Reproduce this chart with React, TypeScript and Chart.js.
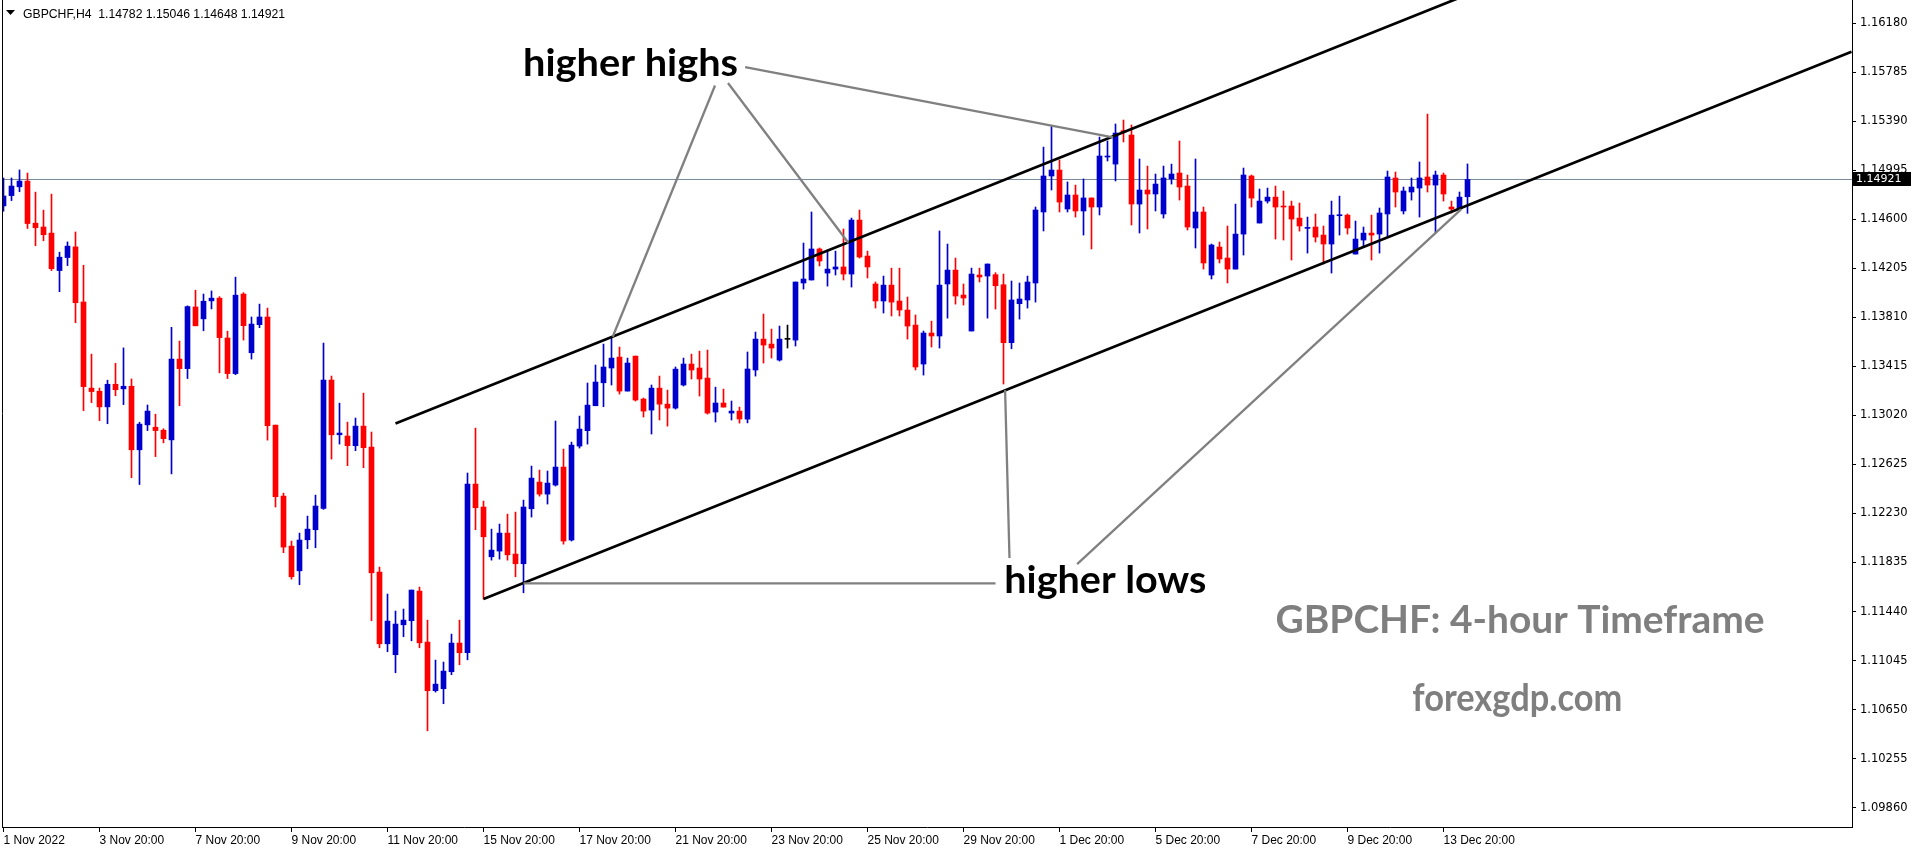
import React, { useEffect, useRef } from "react";
import { Chart, registerables } from "chart.js";

Chart.register(...registerables);

// ---------------- data ----------------
const symbol = "GBPCHF";
const timeframe = "H4";

const opens = [
  1.14708, 1.14791, 1.14862, 1.14908, 1.14569, 1.14538, 1.14489, 1.14187, 1.14292, 1.14378,
  1.13934, 1.1324, 1.13215, 1.13089, 1.13271, 1.13234, 1.13255, 1.12743, 1.12944, 1.12925,
  1.12901, 1.12823, 1.13474, 1.13397, 1.13894, 1.13798, 1.13943, 1.13965, 1.13644, 1.13357,
  1.13998, 1.13525, 1.13751, 1.13813, 1.12942, 1.1237, 1.11967, 1.11768, 1.12018, 1.12099,
  1.12271, 1.13305, 1.12864, 1.12854, 1.12776, 1.12934, 1.12765, 1.11758, 1.1118, 1.11092,
  1.11333, 1.11366, 1.11605, 1.11194, 1.10802, 1.10818, 1.10955, 1.11186, 1.11108, 1.12467,
  1.12282, 1.11881, 1.11927, 1.12072, 1.11903, 1.11825, 1.12268, 1.12483, 1.12386, 1.12459,
  1.12604, 1.12016, 1.12773, 1.12897, 1.13098, 1.13283, 1.13402, 1.1349, 1.13216, 1.13498,
  1.13152, 1.13063, 1.1324, 1.13111, 1.13079, 1.13265, 1.13434, 1.13402, 1.13321, 1.13047,
  1.1312, 1.13039, 1.13055, 1.1299, 1.13386, 1.13635, 1.13595, 1.13466, 1.13633, 1.13627,
  1.14087, 1.14111, 1.14361, 1.14167, 1.14199, 1.14216, 1.14159, 1.14594, 1.14304, 1.14079,
  1.13942, 1.1407, 1.13942, 1.13869, 1.13748, 1.13434, 1.13684, 1.1366, 1.14079, 1.14191,
  1.1399, 1.137, 1.14151, 1.14143, 1.14154, 1.14073, 1.13606, 1.1392, 1.1395, 1.14087,
  1.14659, 1.14949, 1.14997, 1.14683, 1.14796, 1.14667, 1.14772, 1.14699, 1.15102, 1.15045,
  1.15314, 1.15279, 1.14723, 1.14836, 1.14804, 1.14643, 1.14925, 1.14973, 1.14868, 1.1453,
  1.14659, 1.14151, 1.14377, 1.14288, 1.14199, 1.14481, 1.14949, 1.1457, 1.14747, 1.14779,
  1.14707, 1.14707, 1.1461, 1.14527, 1.14538, 1.14473, 1.14401, 1.14629, 1.14634, 1.1432,
  1.14433, 1.14489, 1.14481, 1.14643, 1.14933, 1.14667, 1.1482, 1.14852, 1.14941, 1.14876,
  1.14957, 1.14699, 1.14683, 1.14782,
];

const highs = [
  1.14933, 1.14933, 1.14998, 1.14973, 1.14819, 1.14674, 1.14803, 1.14335, 1.14418, 1.14498,
  1.1423, 1.13514, 1.1324, 1.13304, 1.1344, 1.13564, 1.13314, 1.12965, 1.13104, 1.1303,
  1.12913, 1.1373, 1.13619, 1.13903, 1.14029, 1.13998, 1.14023, 1.13977, 1.13699, 1.14134,
  1.14009, 1.13813, 1.13917, 1.13885, 1.12942, 1.12394, 1.12008, 1.12072, 1.12209, 1.12378,
  1.13603, 1.13337, 1.13119, 1.12966, 1.12999, 1.132, 1.12886, 1.11798, 1.11581, 1.11444,
  1.1146, 1.11613, 1.11637, 1.11371, 1.11049, 1.11033, 1.11258, 1.11371, 1.12556, 1.12918,
  1.1233, 1.12104, 1.12145, 1.12225, 1.12241, 1.12338, 1.12612, 1.1258, 1.12572, 1.12975,
  1.12749, 1.12805, 1.13015, 1.13281, 1.13426, 1.13595, 1.13654, 1.13571, 1.13482, 1.13498,
  1.1316, 1.13265, 1.13337, 1.13224, 1.1341, 1.13482, 1.13514, 1.13538, 1.13547, 1.13248,
  1.13232, 1.13136, 1.13087, 1.13531, 1.13692, 1.13837, 1.13716, 1.1374, 1.13748, 1.14095,
  1.14409, 1.14659, 1.14369, 1.14352, 1.14344, 1.14522, 1.1461, 1.14675, 1.14344, 1.14095,
  1.14143, 1.14207, 1.14207, 1.13974, 1.13829, 1.137, 1.1378, 1.14506, 1.14401, 1.14288,
  1.14079, 1.14207, 1.14207, 1.1424, 1.1417, 1.14159, 1.14103, 1.14087, 1.14143, 1.14699,
  1.15182, 1.15352, 1.15078, 1.14901, 1.14876, 1.14925, 1.14772, 1.15263, 1.15231, 1.15368,
  1.154, 1.1536, 1.15086, 1.15029, 1.14965, 1.15029, 1.15045, 1.15231, 1.14957, 1.15086,
  1.14699, 1.14401, 1.14417, 1.14546, 1.14723, 1.15013, 1.14957, 1.14844, 1.14852, 1.14868,
  1.14828, 1.14747, 1.14731, 1.14618, 1.14643, 1.14546, 1.14747, 1.14787, 1.14643, 1.14586,
  1.14538, 1.14634, 1.14691, 1.14989, 1.14981, 1.1486, 1.14933, 1.15062, 1.15448, 1.14989,
  1.14973, 1.14747, 1.1482, 1.15046,
];

const lows = [
  1.14665, 1.14751, 1.14822, 1.14526, 1.14387, 1.14427, 1.14187, 1.14017, 1.14227, 1.13767,
  1.13058, 1.13123, 1.12978, 1.12953, 1.13178, 1.13107, 1.12518, 1.12463, 1.12898, 1.12688,
  1.12799, 1.12549, 1.13098, 1.13317, 1.13742, 1.13702, 1.13878, 1.13363, 1.13317, 1.13348,
  1.13627, 1.13474, 1.13727, 1.12821, 1.12282, 1.11914, 1.11701, 1.11656, 1.11946, 1.11954,
  1.12263, 1.12668, 1.12789, 1.12615, 1.12736, 1.12599, 1.11366, 1.11148, 1.11116, 1.10947,
  1.11237, 1.11204, 1.11148, 1.10479, 1.10791, 1.10697, 1.10931, 1.11011, 1.11051, 1.12099,
  1.1154, 1.11854, 1.11862, 1.11854, 1.1172, 1.11591, 1.12201, 1.1237, 1.12306, 1.12451,
  1.11983, 1.12008, 1.12757, 1.12789, 1.13098, 1.1309, 1.13265, 1.13192, 1.13216, 1.13136,
  1.13007, 1.1287, 1.12983, 1.12934, 1.13071, 1.13257, 1.13313, 1.13176, 1.13031, 1.12967,
  1.13087, 1.12983, 1.12958, 1.1296, 1.13337, 1.13442, 1.13482, 1.13458, 1.13563, 1.13579,
  1.14038, 1.14111, 1.14224, 1.14062, 1.14151, 1.14111, 1.14054, 1.14288, 1.14127, 1.13885,
  1.13845, 1.13821, 1.13821, 1.13635, 1.13386, 1.13345, 1.13571, 1.13563, 1.13804, 1.13917,
  1.13909, 1.137, 1.14095, 1.13804, 1.13877, 1.13273, 1.13557, 1.13796, 1.13885, 1.13933,
  1.14506, 1.14836, 1.14659, 1.14659, 1.14618, 1.14473, 1.14361, 1.14635, 1.1507, 1.14909,
  1.15223, 1.14554, 1.1449, 1.14522, 1.14667, 1.1461, 1.14884, 1.14755, 1.14514, 1.14369,
  1.14199, 1.14119, 1.14248, 1.14087, 1.14199, 1.14312, 1.14699, 1.1457, 1.14731, 1.14441,
  1.14433, 1.14272, 1.14505, 1.14328, 1.14417, 1.1424, 1.14167, 1.14473, 1.14481, 1.1432,
  1.14377, 1.14272, 1.14328, 1.14457, 1.14699, 1.14643, 1.14755, 1.14618, 1.1482, 1.14489,
  1.14747, 1.14651, 1.14675, 1.14648,
];

const closes = [
  1.14788, 1.14868, 1.14908, 1.14566, 1.14532, 1.14476, 1.14202, 1.14295, 1.14384, 1.13928,
  1.13252, 1.13212, 1.13089, 1.13271, 1.13227, 1.13255, 1.12743, 1.1295, 1.13055, 1.12898,
  1.12833, 1.13474, 1.13397, 1.13897, 1.13742, 1.1394, 1.13965, 1.13647, 1.13357, 1.13989,
  1.13743, 1.13756, 1.13813, 1.12937, 1.12365, 1.11959, 1.1172, 1.12016, 1.12104, 1.1229,
  1.13305, 1.12864, 1.12878, 1.12776, 1.12934, 1.1276, 1.11752, 1.1118, 1.11363, 1.11339,
  1.11371, 1.11613, 1.11188, 1.10802, 1.10855, 1.1096, 1.11186, 1.11108, 1.12467, 1.12276,
  1.12042, 1.11935, 1.12072, 1.11897, 1.11825, 1.12282, 1.12515, 1.12386, 1.12475, 1.12604,
  1.12008, 1.12781, 1.1291, 1.13103, 1.13289, 1.1341, 1.13482, 1.13216, 1.13442, 1.13144,
  1.13055, 1.1324, 1.13111, 1.13079, 1.13393, 1.13434, 1.13386, 1.13313, 1.13039, 1.1312,
  1.13087, 1.13055, 1.12991, 1.13394, 1.13635, 1.13587, 1.13563, 1.13635, 1.13633, 1.14095,
  1.14119, 1.14361, 1.14264, 1.14199, 1.14216, 1.14159, 1.14594, 1.14296, 1.14216, 1.13942,
  1.1407, 1.13933, 1.13869, 1.1374, 1.1341, 1.13684, 1.1366, 1.1407, 1.14191, 1.13982,
  1.13966, 1.14159, 1.14135, 1.1424, 1.14065, 1.13606, 1.1395, 1.13958, 1.14095, 1.14675,
  1.14949, 1.14997, 1.14739, 1.14796, 1.14667, 1.14772, 1.14699, 1.1511, 1.15107, 1.15295,
  1.15303, 1.14723, 1.14836, 1.14804, 1.14884, 1.14933, 1.14965, 1.1486, 1.14538, 1.14659,
  1.14248, 1.14393, 1.1428, 1.14199, 1.14481, 1.14957, 1.14771, 1.14747, 1.14779, 1.14699,
  1.14699, 1.14602, 1.14546, 1.14532, 1.14457, 1.14401, 1.14634, 1.14634, 1.1453, 1.14441,
  1.14489, 1.14473, 1.14651, 1.14941, 1.1482, 1.14828, 1.1486, 1.14933, 1.14876, 1.14957,
  1.14804, 1.14683, 1.14779, 1.14921,
];

const xTickIndexes = [0, 12, 24, 36, 48, 60, 72, 84, 96, 108, 120, 132, 144, 156, 168, 180];
const xTickLabels = [
  "1 Nov 2022", "3 Nov 20:00", "7 Nov 20:00", "9 Nov 20:00", "11 Nov 20:00", "15 Nov 20:00",
  "17 Nov 20:00", "21 Nov 20:00", "23 Nov 20:00", "25 Nov 20:00", "29 Nov 20:00", "1 Dec 20:00",
  "5 Dec 20:00", "7 Dec 20:00", "9 Dec 20:00", "13 Dec 20:00",
];

const yTickValues = [
  1.1618, 1.15785, 1.1539, 1.14995, 1.146, 1.14205, 1.1381, 1.13415, 1.1302,
  1.12625, 1.1223, 1.11835, 1.1144, 1.11045, 1.1065, 1.10255, 1.0986,
];

const lastPrice = 1.14921;

// trend channel (candle index, price)
const channelUpper = [[49, 1.12955], [231, 1.17649]];
const channelLower = [[60, 1.1154], [231, 1.1595]];

// grey pointer lines from the captions to the touch points
const pointerLines = [
  [[88.94, 1.15678], [76.15, 1.13654]],
  [[90.56, 1.15698], [105.6, 1.14411]],
  [[92.7, 1.15827], [138.7, 1.15261]],
  [[65.0, 1.11667], [124.0, 1.11667]],
  [[125.75, 1.11871], [125.2, 1.13224]],
  [[134.2, 1.11822], [182.2, 1.1468]],
];

const captionTexts = ["higher highs", "higher lows", "GBPCHF: 4-hour Timeframe", "forexgdp.com"];
const captionAnchors = [[64.94, 1.15756], [125.1, 1.11586], [159.0, 1.11264], [176.1, 1.1064]];

// ---------------- styling / layout ----------------
const BLUE = "#0000CD";
const RED = "#FF0000";
const captionStyles = [
  { color: "#000000", width: 215 },
  { color: "#000000", width: 202 },
  { color: "#7F7F7F", width: 489 },
  { color: "#7F7F7F", width: 210 },
];
const CAPTION_FONT_SIZE = 38;
const AXIS_FONT = '"DejaVu Sans", sans-serif';
const DATE_FONT = '"Liberation Sans", Arial, sans-serif';
const TITLE_WIDTH = 262;

const X_MIN = -0.1875;
const X_MAX = 231.0625;
const Y_MIN = 1.09704;
const Y_MAX = 1.16367;

const overlayPlugin = {
  id: "overlay",
  afterDatasetsDraw(chart: any) {
    const { ctx, chartArea, scales } = chart;
    ctx.save();
    ctx.beginPath();
    ctx.rect(chartArea.left, chartArea.top, chartArea.right - chartArea.left, chartArea.bottom - chartArea.top);
    ctx.clip();
    captionTexts.forEach((text, i) => {
      const x = scales.x.getPixelForValue(captionAnchors[i][0]);
      const y = scales.y.getPixelForValue(captionAnchors[i][1]);
      ctx.font = `bold ${CAPTION_FONT_SIZE}px Lato, "Open Sans", sans-serif`;
      const w = ctx.measureText(text).width;
      ctx.save();
      ctx.translate(x, y);
      ctx.scale(captionStyles[i].width / w, 1);
      ctx.fillStyle = captionStyles[i].color;
      ctx.textAlign = "left";
      ctx.textBaseline = "alphabetic";
      ctx.fillText(text, 0, 0);
      ctx.restore();
    });
    ctx.restore();
  },
  afterDraw(chart: any) {
    const { ctx, chartArea, scales } = chart;
    ctx.save();
    // left frame line
    ctx.strokeStyle = "#000";
    ctx.lineWidth = 1;
    ctx.beginPath();
    ctx.moveTo(chartArea.left + 0.5, chartArea.top);
    ctx.lineTo(chartArea.left + 0.5, chartArea.bottom);
    ctx.stroke();

    // current price box on the axis
    const yP = Math.round(scales.y.getPixelForValue(lastPrice));
    ctx.fillStyle = "#000";
    ctx.fillRect(chartArea.right + 1, yP - 7, 58, 14);
    ctx.fillStyle = "#fff";
    ctx.font = `11px ${AXIS_FONT}`;
    ctx.textAlign = "left";
    ctx.textBaseline = "middle";
    ctx.fillText(lastPrice.toFixed(5), chartArea.right + 4, yP + 0.5);

    // title
    ctx.fillStyle = "#000";
    ctx.beginPath();
    ctx.moveTo(6, 10);
    ctx.lineTo(15, 10);
    ctx.lineTo(10.5, 15);
    ctx.closePath();
    ctx.fill();
    const n = closes.length - 1;
    const title = `${symbol},${timeframe}  ${opens[n].toFixed(5)} ${highs[n].toFixed(5)} ${lows[n].toFixed(5)} ${closes[n].toFixed(5)}`;
    ctx.font = `12.5px ${DATE_FONT}`;
    ctx.textBaseline = "alphabetic";
    const tw = ctx.measureText(title).width;
    ctx.translate(23, 17.5);
    ctx.scale(TITLE_WIDTH / tw, 1);
    ctx.fillText(title, 0, 0);
    ctx.restore();
  },
};

export default function App() {
  const canvasRef = useRef<HTMLCanvasElement | null>(null);

  useEffect(() => {
    if (!canvasRef.current) return;
    const colors = closes.map((c, i) => (c > opens[i] ? BLUE : c < opens[i] ? RED : "#000000"));
    const bodies = opens.map((o, i) => ({ x: i, y: [Math.min(o, closes[i]), Math.max(o, closes[i])] }));
    const wicks = opens.map((_, i) => ({ x: i, y: [lows[i], highs[i]] }));
    const toPts = (seg: number[][]) => seg.map((p) => ({ x: p[0], y: p[1] }));

    const datasets: any[] = [
      {
        type: "line",
        data: [{ x: X_MIN - 1, y: lastPrice }, { x: X_MAX + 1, y: lastPrice }],
        borderColor: "#778899",
        borderWidth: 1,
        pointRadius: 0,
        order: 5,
        clip: 0,
      },
      {
        type: "bar",
        data: wicks,
        backgroundColor: colors,
        barThickness: 1,
        grouped: false,
        order: 4,
      },
      {
        type: "bar",
        data: bodies,
        backgroundColor: colors,
        barThickness: 5,
        minBarLength: 1,
        grouped: false,
        order: 3,
      },
      {
        type: "line",
        data: toPts(channelUpper),
        borderColor: "#000",
        borderWidth: 2.7,
        pointRadius: 0,
        order: 1,
        clip: 0,
      },
      {
        type: "line",
        data: toPts(channelLower),
        borderColor: "#000",
        borderWidth: 2.7,
        pointRadius: 0,
        order: 1,
        clip: 0,
      },
      ...pointerLines.map((seg) => ({
        type: "line",
        data: toPts(seg),
        borderColor: "#808080",
        borderWidth: 2.3,
        pointRadius: 0,
        order: 0,
        clip: 0,
      })),
    ];

    const chart = new Chart(canvasRef.current, {
      type: "bar",
      data: { datasets },
      plugins: [overlayPlugin],
      options: {
        animation: false,
        responsive: false,
        devicePixelRatio: 1,
        events: [],
        layout: { padding: { left: 2, top: 0, right: 0, bottom: 0 } },
        plugins: { legend: { display: false }, tooltip: { enabled: false } },
        scales: {
          x: {
            type: "linear",
            min: X_MIN,
            max: X_MAX,
            offset: false,
            bounds: "data",
            grid: { display: true, drawOnChartArea: false, drawTicks: true, tickLength: 5, color: "#000", offset: false },
            border: { display: true, color: "#000", width: 1 },
            afterBuildTicks: (s: any) => {
              s.ticks = xTickIndexes.map((v) => ({ value: v }));
            },
            afterFit: (s: any) => {
              s.height = 23;
              s.paddingLeft = 0;
              s.paddingRight = 0;
            },
            ticks: {
              autoSkip: false,
              maxRotation: 0,
              minRotation: 0,
              align: "start",
              padding: 1,
              color: "#000",
              font: { family: DATE_FONT, size: 12 },
              callback: (_v: any, i: number) => xTickLabels[i],
            },
          },
          y: {
            type: "linear",
            position: "right",
            min: Y_MIN,
            max: Y_MAX,
            bounds: "data",
            grid: { display: true, drawOnChartArea: false, drawTicks: true, tickLength: 4, color: "#000" },
            border: { display: true, color: "#000", width: 1 },
            afterBuildTicks: (s: any) => {
              s.ticks = yTickValues.map((v) => ({ value: v }));
            },
            afterFit: (s: any) => {
              s.width = 64;
              s.paddingTop = 0;
              s.paddingBottom = 0;
            },
            ticks: {
              padding: 4,
              color: "#000",
              crossAlign: "near",
              font: { family: AXIS_FONT, size: 11.5 },
              callback: (v: any) => Number(v).toFixed(5),
            },
          },
        },
      } as any,
    });
    return () => chart.destroy();
  }, []);

  return (
    <div style={{ position: "fixed", left: 0, top: 0, width: 1916, height: 850, background: "#fff" }}>
      <canvas ref={canvasRef} width={1916} height={850} style={{ display: "block" }} />
    </div>
  );
}
